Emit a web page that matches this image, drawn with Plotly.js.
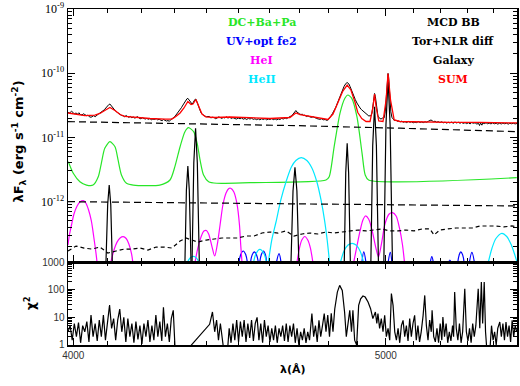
<!DOCTYPE html>
<html>
<head>
<meta charset="utf-8">
<script src="https://cdn.plot.ly/plotly-3.0.1.min.js"></script>
<style>html,body{margin:0;padding:0;background:#fff;}#chart{width:520px;height:386px;}</style>
</head>
<body>
<div id="chart"></div>
<script>
// Flux values are in units of 1e-11 erg s^-1 cm^-2
const FLUX_UNIT = 1e-11;

// Observed spectrum (black): [wavelength, flux]
const obsData = [
 [3985,2.49],[3988,2.38],[3991,2.44],[3995,2.55],[3999,2.46],[4003,2.33],[4008,2.40],[4012,2.30],[4016,2.42],[4020,2.28],
 [4025,2.24],[4029,2.33],[4033,2.27],[4038,2.18],[4042,2.22],[4046,2.10],[4051,2.06],[4055,2.14],[4059,2.18],[4063,2.10],
 [4068,2.24],[4072,2.30],[4077,2.40],[4081,2.47],[4086,2.60],[4090,2.70],[4094,2.87],[4097,3.02],[4100,3.14],[4103,3.25],
 [4106,3.31],[4109,3.15],[4112,3.05],[4115,2.90],[4118,2.75],[4122,2.60],[4127,2.47],[4131,2.36],[4136,2.28],[4140,2.20],
 [4145,2.17],[4149,2.10],[4154,2.19],[4158,2.09],[4162,2.05],[4166,2.12],[4171,2.02],[4175,2.08],[4180,1.99],[4184,2.06],
 [4189,2.10],[4193,1.98],[4198,1.95],[4202,2.03],[4207,1.99],[4211,1.93],[4216,1.98],[4220,1.91],[4225,1.97],[4229,1.88],
 [4234,1.93],[4239,1.90],[4244,1.96],[4248,1.88],[4253,1.91],[4257,1.85],[4262,1.82],[4266,1.90],[4271,1.86],[4275,1.80],
 [4280,1.83],[4284,1.78],[4289,1.90],[4293,1.95],[4298,2.05],[4302,2.15],[4307,2.31],[4312,2.50],[4317,2.67],[4321,2.90],
 [4326,3.20],[4330,3.50],[4335,3.82],[4338,3.98],[4341,4.06],[4345,3.80],[4348,3.60],[4351,3.40],[4354,3.31],[4357,3.45],
 [4360,3.69],[4363,3.90],[4366,3.94],[4369,3.70],[4372,3.31],[4376,2.90],[4379,2.58],[4382,2.42],[4385,2.31],[4390,2.20],
 [4394,2.15],[4399,2.10],[4404,2.08],[4408,2.12],[4413,2.01],[4418,2.06],[4423,2.04],[4427,1.96],[4432,1.99],[4437,2.08],
 [4442,2.05],[4447,1.97],[4452,2.04],[4457,2.01],[4462,2.09],[4467,2.00],[4473,2.06],[4478,1.97],[4483,2.03],[4489,1.99],
 [4494,1.93],[4500,2.00],[4506,1.95],[4511,2.01],[4516,1.92],[4522,1.97],[4527,1.90],[4533,1.98],[4538,1.93],[4543,1.99],
 [4549,1.91],[4554,1.95],[4559,1.89],[4565,1.94],[4570,1.88],[4576,1.95],[4581,1.90],[4587,1.96],[4592,1.88],[4598,1.93],
 [4603,1.90],[4609,1.96],[4614,1.89],[4620,1.94],[4625,1.88],[4631,1.93],[4636,1.90],[4642,1.98],[4647,1.93],[4653,2.01],
 [4658,1.96],[4664,2.04],[4669,2.08],[4674,2.17],[4679,2.28],[4683,2.40],[4686,2.55],[4689,2.62],[4692,2.50],[4696,2.40],
 [4701,2.33],[4706,2.27],[4711,2.30],[4715,2.19],[4719,2.22],[4724,2.12],[4730,2.16],[4736,2.09],[4742,2.05],[4747,2.10],
 [4753,2.00],[4759,1.97],[4764,1.94],[4770,1.91],[4776,1.95],[4782,1.88],[4788,1.90],[4793,1.84],[4798,1.87],[4803,1.98],
 [4808,2.15],[4813,2.35],[4819,2.58],[4824,2.90],[4829,3.31],[4834,3.80],[4839,4.41],[4844,5.10],[4849,5.68],[4853,6.20],
 [4856,6.55],[4860,6.95],[4863,7.17],[4866,7.05],[4870,6.79],[4874,6.20],[4877,5.68],[4882,5.00],[4887,4.41],[4892,3.90],
 [4898,3.43],[4903,3.10],[4909,2.87],[4914,2.70],[4919,2.58],[4925,2.42],[4930,2.31],[4935,2.22],[4940,2.15],[4944,2.18],
 [4947,2.15],[4951,2.40],[4954,3.31],[4957,4.30],[4960,4.83],[4963,4.30],[4966,3.40],[4969,2.60],[4972,2.15],[4978,1.98],
 [4983,1.93],[4988,2.00],[4994,2.01],[4998,2.50],[5001,3.82],[5004,6.50],[5006,8.80],[5008,9.90],[5010,8.80],[5012,6.50],
 [5015,3.82],[5018,2.50],[5022,2.05],[5026,1.92],[5031,1.83],[5037,1.85],[5042,1.78],[5047,1.80],[5051,1.74],[5057,1.79],
 [5063,1.72],[5069,1.76],[5075,1.70],[5081,1.77],[5087,1.72],[5093,1.75],[5099,1.69],[5105,1.73],[5111,1.70],[5117,1.76],
 [5124,1.71],[5130,1.74],[5136,1.70],[5142,1.75],[5148,1.72],[5154,1.78],[5160,1.83],[5164,1.87],[5168,1.82],[5173,1.76],
 [5179,1.79],[5185,1.72],[5191,1.76],[5197,1.70],[5203,1.75],[5210,1.69],[5216,1.73],[5222,1.67],[5228,1.72],[5234,1.68],
 [5240,1.73],[5247,1.66],[5253,1.74],[5259,1.68],[5266,1.72],[5272,1.66],[5278,1.71],[5285,1.65],[5291,1.70],[5297,1.64],
 [5304,1.69],[5310,1.62],[5316,1.70],[5323,1.66],[5329,1.69],[5336,1.61],[5342,1.66],[5346,1.53],[5350,1.68],[5355,1.55],
 [5359,1.68],[5364,1.64],[5371,1.69],[5377,1.63],[5383,1.67],[5390,1.62],[5396,1.68],[5403,1.63],[5410,1.66],[5416,1.61],
 [5423,1.66],[5430,1.62],[5436,1.67],[5443,1.63],[5450,1.66],[5457,1.61],[5463,1.66],[5470,1.63],[5477,1.66],[5484,1.62],
 [5491,1.65]];

// SUM model (red)
const sumWave = [3985,4005,4033,4062,4077,4091,4106,4121,4136,4150,4180,4225,4271,4292,4304,4317,4329,4341,4351,4357,
  4366,4375,4385,4397,4426,4473,4538,4603,4669,4689,4703,4736,4770,4798,4815,4832,4849,4864,4877,4891,
  4901,4915,4930,4944,4954,4960,4966,4975,4990,5001,5008,5017,5030,5051,5124,5234,5348,5491];
const sumFlux = [2.40,2.31,2.19,2.23,2.36,2.62,2.92,2.62,2.27,2.12,2.04,1.97,1.93,1.93,2.12,2.40,2.87,3.62,3.25,3.31,
  3.89,3.08,2.31,2.08,2.04,2.08,2.01,1.97,2.04,2.40,2.27,2.12,1.97,1.90,2.31,3.43,5.28,6.55,5.48,3.56,
  2.44,1.97,1.77,1.77,2.87,4.74,2.87,1.80,1.77,3.82,9.90,3.82,1.87,1.77,1.74,1.71,1.71,1.68];

// MCD BB (black long dash)
const mcdWave = [3985,4200,4480,4700,5051,5491];
const mcdFlux = [1.76,1.68,1.60,1.52,1.39,1.23];

// Tor+NLR diff continuum (black dash) and narrow lines (black solid)
const torWave = [3985,4538,5491];
const torFlux = [0.0997,0.093,0.0855];
const nlrWave = [4092,4095,4099.5,4104,4108.5,4113,4116,null,
  4329,4332,4336.5,4341,4345.5,4350,4353,null,
  4351,4354,4359.5,4365,4370.5,4376,4379,null,
  4670,4673,4679.5,4686,4692.5,4699,4702,null,
  4851,4854,4859,4864,4869,4874,4877,null,
  4944,4947,4953.5,4960,4966.5,4973,4976,null,
  4990,4993,5000.5,5008,5015.5,5023,5026];
const nlrFlux = [0.004,0.0115,0.09,0.181,0.09,0.0115,0.004,null,
  0.004,0.0115,0.15,0.358,0.15,0.0115,0.004,null,
  0.003,0.0115,0.40,1.386,0.40,0.0115,0.003,null,
  0.004,0.0115,0.146,0.342,0.146,0.0115,0.004,null,
  0.004,0.0115,0.28,0.809,0.28,0.0115,0.004,null,
  0.003,0.0115,0.75,3.0,0.75,0.0115,0.003,null,
  0.003,0.0115,1.56,8.0,1.56,0.0115,0.003];

// Galaxy (black noisy dashed)
const galWave = [3985,4008,4031,4054,4077,4100,4124,4148,4171,4195,4219,4244,4268,4292,4317,4335,4354,4372,4398,4423,
  4448,4473,4499,4525,4551,4577,4603,4630,4656,4683,4710,4736,4763,4791,4819,4846,4874,4902,4930,4958,
  4986,5015,5044,5073,5102,5131,5160,5175,5197,5227,5257,5287,5318,5348,5378,5409,5440,5471,5491];
const galFlux = [0.0170,0.0203,0.0189,0.0182,0.0196,0.0158,0.0170,0.0182,0.0182,0.0189,0.0176,0.0196,0.0196,0.0189,0.0243,0.0271,0.0252,0.0234,0.0252,0.0261,
  0.0271,0.0271,0.0271,0.0291,0.0291,0.0324,0.0336,0.0324,0.0349,0.0291,0.0313,0.0324,0.0313,0.0336,0.0324,0.0336,0.0349,0.0361,0.0349,0.0361,
  0.0375,0.0349,0.0349,0.0361,0.0349,0.0375,0.0375,0.0302,0.0361,0.0375,0.0388,0.0388,0.0388,0.0417,0.0417,0.0417,0.0403,0.0417,0.0403];

// DC+Ba+Pa (green)
const greenWave = [3986,4000,4019,4038,4057,4072,4081,4091,4106,4121,4130,4140,4155,4175,4255,4286,4301,4317,4332,4343,
  4359,4370,4379,4390,4406,4432,4538,4791,4802,4819,4839,4856,4866,4880,4898,4916,4927,4939,5490];
const greenFlux = [0.418,0.276,0.204,0.181,0.181,0.244,0.395,0.676,0.857,0.716,0.445,0.260,0.193,0.181,0.181,0.217,0.350,0.716,1.227,1.416,
  1.227,0.809,0.445,0.260,0.204,0.193,0.197,0.217,0.244,0.716,2.374,4.064,4.575,4.064,2.101,0.565,0.260,0.217,0.236];

// HeI (magenta)
const heIWave = [3985,3989,3995,4002,4011,4019,4029,4036,4044,4052,4059,4065,4069,null,
  4109,4118,4127,4136,4145,4154,4162,4170,4174,null,
  4363,4372,4382,4391,4399,4406,4416,4425,4433,4442,4451,4461,4470,4476,4486,4496,4504,4508,4512,null,
  4693,4701,4709,4719,4729,4738,4746,null,
  4887,4898,4909,4919,4928,4939,4951,4964,4974,4985,4997,5012,5024,5037,5049,5060,5067];
const heIFlux = [0.0211,0.0302,0.0432,0.0641,0.0854,0.0987,0.1033,0.0951,0.0740,0.0499,0.0281,0.0164,0.0107,null,
  0.0115,0.0176,0.0234,0.0271,0.0284,0.0266,0.0218,0.0153,0.0111,null,
  0.0111,0.0189,0.0281,0.0349,0.0355,0.0313,0.0203,0.0142,0.0211,0.0432,0.0885,0.136,0.160,0.161,0.141,0.0918,0.0432,0.0211,0.0115,null,
  0.0115,0.0189,0.0252,0.0286,0.0252,0.0189,0.0115,null,
  0.0115,0.0203,0.0349,0.0516,0.0597,0.0535,0.0361,0.0196,0.0138,0.0226,0.0448,0.0641,0.0672,0.0597,0.0388,0.0211,0.0115];

// HeII (cyan)
const heIIWave = [4338,4348,4358,4368,4377,null,
  4549,4557,4570,4584,4592,null,
  4598,4609,4623,4639,4656,4674,4689,4707,4726,4743,4760,4774,4786,4795,4803,null,
  4841,4853,4867,4881,4895,4909,4921,null,
  5380,5394,5409,5432,5451,5469,5480,5491];
const heIIFlux = [0.0110,0.0132,0.0140,0.0132,0.0110,null,
  0.0110,0.0153,0.0180,0.0153,0.0110,null,
  0.0115,0.0252,0.0481,0.106,0.202,0.346,0.437,0.483,0.437,0.334,0.202,0.106,0.0516,0.0252,0.0115,null,
  0.0115,0.0170,0.0211,0.0224,0.0211,0.0170,0.0115,null,
  0.0115,0.0189,0.0266,0.0321,0.0286,0.0211,0.0158,0.0115];

// UV+opt fe2 (blue)
const fe2Wave = [4502,4508,4516,4524,4530,null, 4539,4545,4552,4559,4566,null, 4569,4575,4582,4588,4593,null,
  4624,4633,4640,null, 4915,4922,4930,null, 5008,5016,5022,null, 5161,5167,5173,null, 5228,5234,5240,null,
  5263,5269,5275,5282,5288,null, 5307,5317,5327];
const fe2Flux = [0.0108,0.0150,0.0170,0.0150,0.0108,null, 0.0108,0.0148,0.0165,0.0148,0.0108,null, 0.0108,0.0150,0.0170,0.0150,0.0108,null,
  0.0110,0.0155,0.0110,null, 0.0110,0.0165,0.0110,null, 0.0110,0.0162,0.0110,null, 0.0110,0.0139,0.0110,null, 0.0110,0.0123,0.0110,null,
  0.0108,0.0148,0.0165,0.0148,0.0108,null, 0.0110,0.0162,0.0110];

// chi^2 residuals (lower panel)
const chiWave = [3985,3991,3997,4003,4009,4015,4021,4027,4033,4039,4045,4051,4057,4063,4069,4075,4081,4087,4093,4099,
  4105,4111,4117,4123,4129,4135,4141,4147,4153,4159,4165,4171,4177,4183,4189,4195,4201,4207,4213,4219,
  4225,4231,4237,4243,4249,4255,4261,4266,4272,4278,4284,4290,4296,4301,4310,4330,4345,4352,4409,4418,
  4425,4431,4437,4443,4449,4455,4465,4471,4477,4483,4489,4495,4501,4507,4513,4519,4525,4531,4537,4543,
  4549,4555,4561,4567,4573,4579,4585,4591,4597,4603,4609,4615,4621,4627,4633,4639,4645,4651,4657,4663,
  4669,4675,4681,4687,4693,4699,4705,4711,4717,4723,4729,4735,4743,4749,4755,4761,4767,4773,4779,4785,
  4791,4797,4803,4809,4815,4821,4830,4838,4847,4855,4861,4867,4873,4879,4884,4890,4897,4904,4911,4919,
  4927,4937,4946,4954,4963,4968,4972,4978,4984,4990,4996,5002,5008,5014,5020,5026,5032,5038,5044,5050,
  5056,5062,5068,5074,5080,5086,5092,5098,5104,5110,5116,5122,5128,5135,5141,5147,5153,5159,5165,5168,
  5174,5180,5186,5192,5198,5204,5208,5214,5220,5226,5232,5238,5244,5248,5252,5258,5264,5270,5276,5282,
  5290,5296,5302,5308,5314,5320,5326,5332,5341,5347,5353,5358,5364,5369,5375,5385,5392,5398,5404,5410,
  5416,5424,5430,5436,5442,5448,5454,5460,5466,5472,5478,5484,5490];
const chiVal = [3,5,1.5,6,2,6.5,1.2,5,3,7,1.3,12,2,6,1.4,8,2,12,1.5,9,
  28,4,9,1.5,8,20,3,10,1.3,9,2,6,1.2,7,1.6,5,1.1,6,2,8,
  1.3,5,1.5,12,2,7,1.4,23,2,6,1.3,9,18,1,0.5,0.5,0.5,1,5.6,15.6,
  3,8,1.5,6,1,0.5,0.5,4,1.2,6,1.5,8,1.3,7,2,8,1.3,6,1.8,8,
  1.4,6,10,1.5,6,1.2,8,2,5,1.3,4,1.5,5,1.2,4,2,5,1.4,6,1.3,
  5,2,6,1.2,4,1,3,1.5,4,1.2,3,1.5,13.6,2,5,1.3,7.8,2,5,13.6,
  3,12,2,14,3,20,82,143,94,15.6,2,6,18,3,18,1.5,1,27,47,59,
  54,36,20.5,9,15.6,6,13.6,4,9,3,11.8,2,4,1.5,72,27,3,1.5,4,1.2,
  5,7.8,2,5,1.4,9,2,6,11.8,1.5,5,1.3,3,11.8,62,5,1.5,8,3,18,
  2,1.3,4,1.2,6,1.5,10.3,2,6,1.2,3,1.4,5,2,82,4,1.5,6,1.2,3,
  108,3,1.4,4,1.2,6,2,5,108,4,190,6,190,3,0.5,0.5,5,1.5,3,1,
  4,6.8,2,6,1.5,6.8,2,5,1.3,7.8,2,5,3];

// Axis ticks and labels
const xMajorTicks = [4000,5000];
const xMajorText = ['4000','5000'];
const xMinorTicks = [4000,4100,4200,4300,4400,4500,4600,4700,4800,4900,5000,5100,5200,5300,5400];
const yTopTicks = [1e-12,1e-11,1e-10,1e-9];
const yTopText = ['10<sup>-12</sup>','10<sup>-11</sup>','10<sup>-10</sup>','10<sup>-9</sup>'];
const chiTicks = [1,10,100,1000];
const chiText = ['1','10','100','1000'];
const minorMult = [2,3,4,5,6,7,8,9];

const yTopMinor = [];
[1e-13,1e-12,1e-11,1e-10].forEach(d => minorMult.forEach(m => yTopMinor.push(m*d)));
const chiMinor = [];
[1,10,100].forEach(d => minorMult.forEach(m => chiMinor.push(m*d)));

const obsWave = obsData.map(p => p[0]);
const obsFlux = obsData.map(p => p[1]);

const sc = a => a.map(v => v === null ? null : v*FLUX_UNIT);

function tr(x, y, line) {
  return {x: x, y: sc(y), type:'scatter', mode:'lines', xaxis:'x', yaxis:'y',
    line: line, connectgaps:false, hoverinfo:'skip'};
}

const GREEN = 'rgb(40,230,40)';
const CYAN = '#00e8ff';
const traces = [
  tr(greenWave, greenFlux, {color:GREEN, width:1.2, shape:'spline', smoothing:0.7}),
  tr(fe2Wave, fe2Flux, {color:'#0000ff', width:1.2, shape:'spline', smoothing:1}),
  tr(heIWave, heIFlux, {color:'#ff00ff', width:1.2, shape:'spline', smoothing:0.8}),
  tr(heIIWave, heIIFlux, {color:CYAN, width:1.2, shape:'spline', smoothing:0.8}),
  tr(mcdWave, mcdFlux, {color:'#000', width:1.2, dash:'7px,4px'}),
  tr(torWave, torFlux, {color:'#000', width:1.2, dash:'7px,4px'}),
  tr(galWave, galFlux, {color:'#000', width:1.2, dash:'4px,3px'}),
  tr(nlrWave, nlrFlux, {color:'#000', width:1.2}),
  tr(obsWave, obsFlux, {color:'#000', width:1}),
  tr(sumWave, sumFlux, {color:'#ff0000', width:1.3}),
  {x: chiWave, y: chiVal, type:'scatter', mode:'lines', xaxis:'x2', yaxis:'y2',
   line:{color:'#000', width:1.2}, hoverinfo:'skip'}
];

const axisCommon = {showline:true, linecolor:'#000', linewidth:1.5, mirror:'ticks', showgrid:false, zeroline:false,
  ticks:'inside', tickcolor:'#000', tickwidth:1};
const xrange = [Math.log10(3985), Math.log10(5491)];
const TOPDOM = 0.247;

function lab(text, x, y, color) {
  return {text:'<b>'+text+'</b>', x:x, y:y, xref:'paper', yref:'paper', showarrow:false,
    xanchor:'center', yanchor:'middle', font:{family:'DejaVu Serif', size:11, color:color}};
}

const layout = {
  width:520, height:386, margin:{l:68, r:3, t:9, b:41},
  paper_bgcolor:'#fff', plot_bgcolor:'#fff', showlegend:false,
  xaxis: Object.assign({}, axisCommon, {type:'log', range:xrange, domain:[0,1], anchor:'y',
    tickmode:'array', tickvals:xMajorTicks, ticktext:xMajorText, showticklabels:false, ticklen:7,
    minor:{tickmode:'array', tickvals:xMinorTicks, ticks:'inside', ticklen:4, tickcolor:'#000', showgrid:false}}),
  xaxis2: Object.assign({}, axisCommon, {type:'log', range:xrange, domain:[0,1], anchor:'y2',
    tickmode:'array', tickvals:xMajorTicks, ticktext:xMajorText, ticklen:7,
    tickfont:{family:'Liberation Sans', size:10, color:'#333'},
    minor:{tickmode:'array', tickvals:xMinorTicks, ticks:'inside', ticklen:4, tickcolor:'#000', showgrid:false}}),
  yaxis: Object.assign({}, axisCommon, {type:'log', range:[-12.941, -9], domain:[TOPDOM,1], anchor:'x',
    tickmode:'array', tickvals:yTopTicks, ticktext:yTopText, ticklen:7,
    tickfont:{family:'Liberation Serif', size:12, color:'#000'},
    minor:{tickmode:'array', tickvals:yTopMinor, ticks:'inside', ticklen:4, tickcolor:'#000', showgrid:false}}),
  yaxis2: Object.assign({}, axisCommon, {type:'log', range:[0, 3], domain:[0,TOPDOM], anchor:'x2',
    tickmode:'array', tickvals:chiTicks, ticktext:chiText, ticklen:7,
    tickfont:{family:'Liberation Sans', size:10, color:'#333'},
    minor:{tickmode:'array', tickvals:chiMinor, ticks:'inside', ticklen:4, tickcolor:'#000', showgrid:false}}),
  annotations: [
    lab('DC+Ba+Pa', 0.4314, 0.9592, GREEN),
    lab('UV+opt fe2', 0.4314, 0.9027, '#0000ff'),
    lab('HeI', 0.4314, 0.8467, '#ff00ff'),
    lab('HeII', 0.4314, 0.7887, CYAN),
    lab('MCD BB', 0.8575, 0.9592, '#000'),
    lab('Tor+NLR diff', 0.8575, 0.9027, '#000'),
    lab('Galaxy', 0.8575, 0.8467, '#000'),
    lab('SUM', 0.8575, 0.7887, '#ff0000'),
    {text:'<b>λF<sub>λ</sub> (erg s<sup>-1</sup> cm<sup>-2</sup>)</b>', x:-0.1091, y:0.6057, xref:'paper', yref:'paper',
     showarrow:false, textangle:-90, xanchor:'center', yanchor:'middle', font:{family:'DejaVu Sans', size:13, color:'#000'}},
    {text:'<b>χ<sup>2</sup></b>', x:-0.0846, y:0.125, xref:'paper', yref:'paper',
     showarrow:false, textangle:-90, xanchor:'center', yanchor:'middle', font:{family:'DejaVu Sans', size:12, color:'#000'}},
    {text:'<b>λ(Å)</b>', x:0.5011, y:-0.0744, xref:'paper', yref:'paper',
     showarrow:false, xanchor:'center', yanchor:'middle', font:{family:'DejaVu Sans', size:11, color:'#000'}}
  ]
};

Plotly.newPlot('chart', traces, layout, {displayModeBar:false, staticPlot:true});
</script>
</body>
</html>
